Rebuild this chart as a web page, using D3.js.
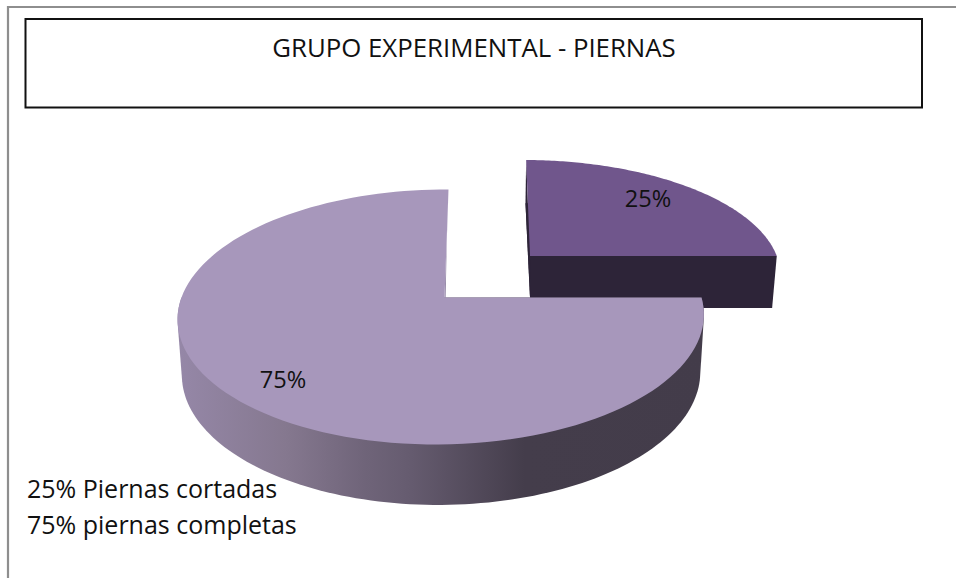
<!DOCTYPE html>
<html lang="en">
<head>
<meta charset="UTF-8">
<title>Grupo experimental - piernas</title>
<script src="https://d3js.org/d3.v7.min.js"></script>
<style>
  html, body { margin: 0; padding: 0; background: #fff; }
  svg { display: block; }
  text { font-family: "Open Sans", sans-serif; fill: #111; }
</style>
</head>
<body>
<div id="chart"></div>
<script>
// data
const titleText = "GRUPO EXPERIMENTAL - PIERNAS";
const categories = ["Piernas cortadas", "piernas completas"];
const values = [25, 75];
const sliceLabels = ["25%", "75%"];
const legendLines = ["25% Piernas cortadas", "75% piernas completas"];
const sliceColors = ["#70568c", "#a797bb"];

const width = 956, height = 578;

const svg = d3.select("#chart").append("svg")
  .attr("width", width)
  .attr("height", height);

// frame + title box
svg.append("path")
  .attr("d", "M8,578V7H956")
  .attr("fill", "none")
  .attr("stroke", "#8e8e8e")
  .attr("stroke-width", 2.2);
svg.append("rect")
  .attr("x", 25.5).attr("y", 19)
  .attr("width", 896.5).attr("height", 88.5)
  .attr("fill", "#fff")
  .attr("stroke", "#111")
  .attr("stroke-width", 2);
svg.append("text")
  .attr("x", 474).attr("y", 56.5)
  .attr("text-anchor", "middle")
  .attr("font-size", 25.8)
  .text(titleText);

// perspective of the pie plane, unit circle -> pixels
const apex = [446, 297.5];
const persp = { a: 260, b: 124.5, k: -0.153, m: 0.0115 };
function project(angle, r, p) {
  const x = r * Math.sin(angle), y = -r * Math.cos(angle);
  const w = 1 + persp.k * y + persp.m * x;
  const px = persp.a * x / w, py = persp.b * y / w;
  return [apex[0] + p.dx + p.sx * px + p.shear * p.sy * py, apex[1] + p.dy + p.sy * py];
}

// top and bottom placement of each slice (the small one is pulled out)
const placement = [
  { top: { dx: 84, dy: -41.5, sx: 0.96, sy: 0.889, shear: 0.04 },
    bottom: { dx: 84.5, dy: 10.5, sx: 0.94, sy: 0.97, shear: 0.048 } },
  { top: { dx: -1.5, dy: 0, sx: 1, sy: 1, shear: -0.037 },
    bottom: { dx: -1.5, dy: 56, sx: 0.985, sy: 1.03, shear: -0.02 } }
];

// 75% starts at 12 o'clock going left, 25% is the top right quarter
const pie = d3.pie().sort(null).value(d => d);
const slices = pie(values);

function arcPoints(s, p) {
  return d3.range(0, 121).map(i => project(s.startAngle + (s.endAngle - s.startAngle) * i / 120, 1, p));
}
const line = d3.line();
const sector = (s, p) => line([project(0, 0, p), ...arcPoints(s, p)]) + "Z";

const defs = svg.append("defs");
const wallGrad = defs.append("linearGradient")
  .attr("id", "wallGrad")
  .attr("gradientUnits", "userSpaceOnUse")
  .attr("x1", 180).attr("x2", 710).attr("y1", 0).attr("y2", 0);
[[0, "#9587a7"], [0.2, "#85788f"], [0.35, "#6f6479"], [0.43, "#665c70"], [0.65, "#443d4b"], [1, "#433c4a"]]
  .forEach(d => wallGrad.append("stop").attr("offset", d[0]).attr("stop-color", d[1]));

const gSmall = svg.append("g"), gBig = svg.append("g");

// small slice: bottom, side faces, top
{
  const s = slices[0], p = placement[0];
  const dark = "#2d2438";
  gSmall.append("path").attr("d", sector(s, p.bottom)).attr("fill", dark);
  const tt = arcPoints(s, p.top), bb = arcPoints(s, p.bottom);
  const tc = project(0, 0, p.top), bc = project(0, 0, p.bottom);
  gSmall.append("path").attr("d", line([tc, tt[0], bb[0], bc]) + "Z").attr("fill", dark);
  gSmall.append("path").attr("d", line([tc, tt[tt.length - 1], bb[bb.length - 1], bc]) + "Z").attr("fill", dark);
  gSmall.append("path").attr("d", sector(s, p.top)).attr("fill", sliceColors[0]);
}

// big slice: the wall is the hull of the front half of top and bottom rims, then top
{
  const s = slices[1], p = placement[1];
  const tt = arcPoints(s, p.top), bb = arcPoints(s, p.bottom);
  const front = { startAngle: Math.PI / 2, endAngle: Math.PI * 3 / 2 };
  const hull = d3.polygonHull([...arcPoints(front, p.top), ...arcPoints(front, p.bottom)]);
  gBig.append("path")
    .attr("d", line(hull) + "Z")
    .attr("fill", "url(#wallGrad)");
  gBig.append("path")
    .attr("d", line([project(0, 0, p.top), tt[tt.length - 1], bb[bb.length - 1], project(0, 0, p.bottom)]) + "Z")
    .attr("fill", "#8d7fa0");
  gBig.append("path").attr("d", sector(s, p.top)).attr("fill", sliceColors[1]);
}

// labels on the slices
svg.selectAll("text.slice-label")
  .data(sliceLabels)
  .join("text")
  .attr("class", "slice-label")
  .attr("x", (d, i) => [648, 283][i])
  .attr("y", (d, i) => [207, 388][i])
  .attr("text-anchor", "middle")
  .attr("font-size", 23.6)
  .text(d => d);

// typed legend, bottom left
svg.selectAll("text.legend")
  .data(legendLines)
  .join("text")
  .attr("class", "legend")
  .attr("x", 27)
  .attr("y", (d, i) => 498 + i * 36)
  .attr("font-size", 25)
  .text(d => d);
</script>
</body>
</html>
